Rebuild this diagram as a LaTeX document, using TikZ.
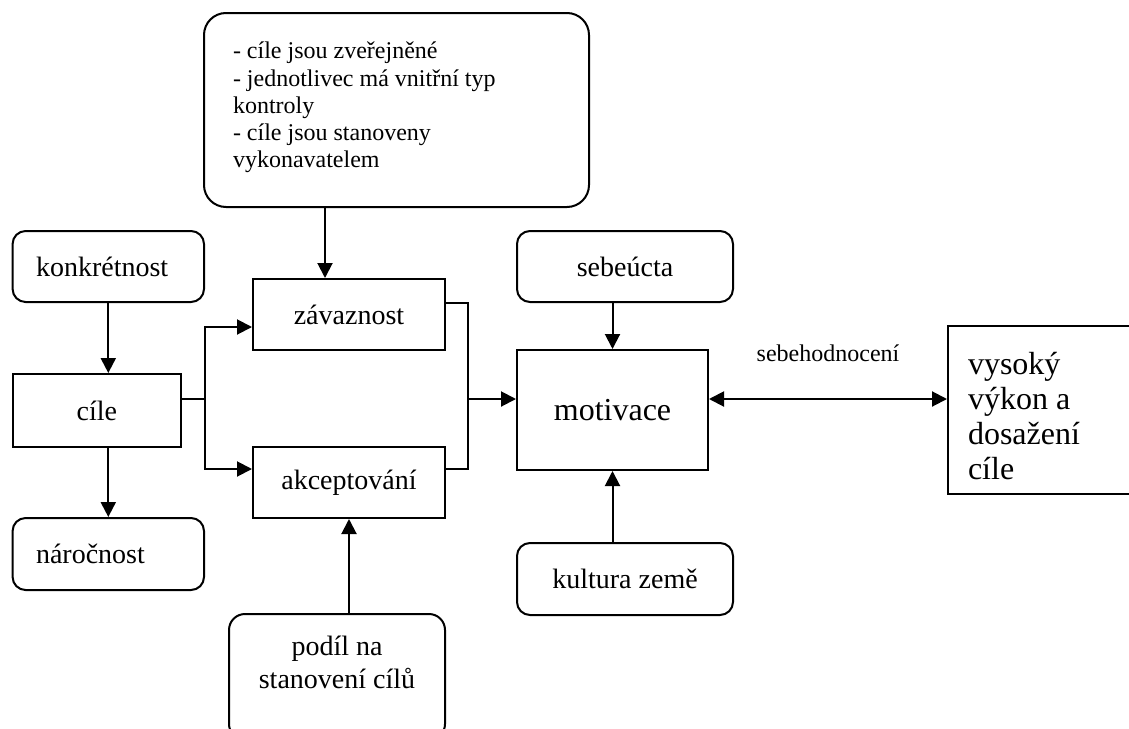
\documentclass[tikz,border=0pt]{standalone}
\usepackage{fontspec}
\setmainfont{Liberation Serif}
\usetikzlibrary{arrows.meta, positioning, calc}

\begin{document}
\begin{tikzpicture}[
    x=0.5pt, y=-0.5pt,
    >={Triangle[length=7.5pt,width=7.5pt]},
    box/.style={draw, line width=1pt, inner sep=0pt, align=center, font=\fontsize{14}{16.5}\selectfont},
    rbox/.style={box, rounded corners=6.5pt},
    leftbox/.style={rbox, align=flush left, text width=72.3pt},
    bigfont/.style={font=\fontsize{16}{17.5}\selectfont},
    smallfont/.style={font=\fontsize{12}{13.6}\selectfont},
    flow/.style={->, line width=1pt}
  ]
    \useasboundingbox (0,0) rectangle (1129,728);
    \clip (0,0) rectangle (1129,728);

    \node[rbox, smallfont, rounded corners=11pt, align=flush left, text width=163.5pt, text depth=59.5pt,
          minimum width=192.5pt, minimum height=97pt] (podminky) at (396.5,110)
      {- cíle jsou zveřejněné\\- jednotlivec má vnitřní typ\\kontroly\\- cíle jsou stanoveny\\vykonavatelem};
    \node[leftbox, minimum width=95.7pt, minimum height=35.5pt] (konkretnost) at (108.3,266.5) {konkrétnost};
    \node[box, minimum width=84.2pt, minimum height=36.5pt] (cile) at (96.8,410.5) {cíle};
    \node[leftbox, minimum width=95.7pt, minimum height=36pt] (narocnost) at (108.3,554) {náročnost};
    \node[box, minimum width=96pt, minimum height=35.5pt] (zavaznost) at (349,314.5) {závaznost};
    \node[box, minimum width=96pt, minimum height=35.5pt] (akceptovani) at (349,482.5) {akceptování};
    \node[rbox, rounded corners=8pt, text depth=15pt, minimum width=108pt, minimum height=63pt] (podil) at (337,677)
      {podíl na\\stanovení cílů};
    \node[rbox, minimum width=108pt, minimum height=35.5pt] (sebeucta) at (625,266.5) {sebeúcta};
    \node[box, bigfont, minimum width=95.5pt, minimum height=60pt] (motivace) at (612.5,410) {motivace};
    \node[rbox, minimum width=108pt, minimum height=36pt] (kultura) at (625,579) {kultura země};
    \node[box, bigfont, align=flush left, text width=81pt, text depth=47pt, minimum width=101pt, minimum height=84pt] (vykon) at (1049,410)
      {vysoký\\výkon a\\dosažení\\cíle};

    % vstupy do cilu a zavaznosti
    \draw[flow] ([xshift=-12pt]zavaznost.north |- podminky.south) -- ([xshift=-12pt]zavaznost.north);
    \draw[flow] (konkretnost.south) -- (konkretnost.south |- cile.north);
    \draw[flow] (narocnost.north |- cile.south) -- (narocnost.north);

    % rozdeleni z cilu
    \coordinate (rozcesti) at ($([yshift=5.75pt]cile.east)+(23,0)$);
    \draw[line width=1pt] ([yshift=5.75pt]cile.east) -- (rozcesti);
    \draw[flow] (rozcesti) |- ([yshift=-6.25pt]zavaznost.west);
    \draw[flow] (rozcesti) |- ([yshift=6.75pt]akceptovani.west);
    \draw[flow] (podil.north -| akceptovani.south) -- (akceptovani.south);

    % spojeni do motivace
    \coordinate (spoj) at ($([yshift=5.5pt]motivace.west)+(-48,0)$);
    \draw[line width=1pt] ([yshift=5.75pt]zavaznost.east) -| (spoj);
    \draw[line width=1pt] ([yshift=6.75pt]akceptovani.east) -| (spoj);
    \draw[flow] (spoj) -- ([yshift=5.5pt]motivace.west);
    \draw[flow] (motivace.north |- sebeucta.south) -- (motivace.north);
    \draw[flow] (motivace.south |- kultura.north) -- (motivace.south);
    \draw[flow, <->] ([yshift=5.5pt]motivace.east) -- node[above=15pt, smallfont]{sebehodnocení} ([yshift=5.5pt]motivace.east -| vykon.west);
  \end{tikzpicture}
\end{document}
